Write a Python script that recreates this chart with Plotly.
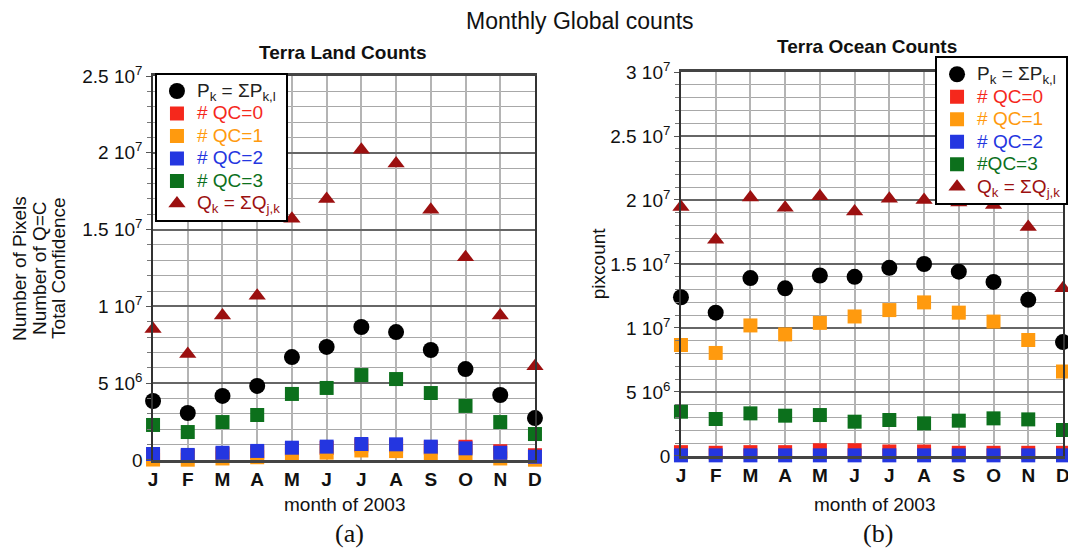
import plotly.graph_objects as go

# Month labels (2003)
months = ["J", "F", "M", "A", "M", "J", "J", "A", "S", "O", "N", "D"]

# Terra Land counts
land_P = [3.84e6, 3.06e6, 4.17e6, 4.82e6, 6.70e6, 7.36e6, 8.66e6, 8.33e6, 7.16e6, 5.92e6, 4.23e6, 2.73e6]
land_qc0 = [0.30e6, 0.25e6, 0.38e6, 0.50e6, 0.70e6, 0.78e6, 0.95e6, 0.92e6, 0.80e6, 0.86e6, 0.57e6, 0.31e6]
land_qc1 = [0.03e6, 0.02e6, 0.10e6, 0.18e6, 0.38e6, 0.48e6, 0.62e6, 0.58e6, 0.45e6, 0.30e6, 0.10e6, 0.02e6]
land_qc2 = [0.39e6, 0.33e6, 0.47e6, 0.59e6, 0.80e6, 0.87e6, 1.04e6, 1.02e6, 0.87e6, 0.76e6, 0.47e6, 0.21e6]
land_qc3 = [2.28e6, 1.82e6, 2.47e6, 2.93e6, 4.30e6, 4.69e6, 5.53e6, 5.27e6, 4.36e6, 3.52e6, 2.47e6, 1.69e6]
land_Q = [8.53e6, 6.90e6, 9.40e6, 10.7e6, 15.7e6, 17.0e6, 20.2e6, 19.3e6, 16.3e6, 13.2e6, 9.40e6, 6.10e6]

# Terra Ocean counts
ocean_P = [12.4e6, 11.2e6, 13.9e6, 13.1e6, 14.1e6, 14.0e6, 14.7e6, 15.0e6, 14.4e6, 13.6e6, 12.2e6, 8.9e6]
ocean_qc0 = [0.30e6, 0.25e6, 0.30e6, 0.30e6, 0.45e6, 0.45e6, 0.35e6, 0.35e6, 0.25e6, 0.25e6, 0.25e6, 0.25e6]
ocean_qc1 = [8.67e6, 8.05e6, 10.2e6, 9.5e6, 10.4e6, 10.9e6, 11.4e6, 12.0e6, 11.2e6, 10.5e6, 9.06e6, 6.6e6]
ocean_qc2 = [0.05e6] * 12
ocean_qc3 = [3.46e6, 2.89e6, 3.33e6, 3.15e6, 3.20e6, 2.68e6, 2.81e6, 2.55e6, 2.76e6, 2.94e6, 2.86e6, 2.03e6]
ocean_Q = [19.45e6, 16.9e6, 20.2e6, 19.4e6, 20.3e6, 19.1e6, 20.1e6, 20.0e6, 19.8e6, 19.6e6, 17.9e6, 13.1e6]

# Y tick labels
land_ticks = [0, 5e6, 1e7, 1.5e7, 2e7, 2.5e7]
land_ticktext = ["0", "5 10<sup>6</sup>", "1 10<sup>7</sup>", "1.5 10<sup>7</sup>", "2 10<sup>7</sup>", "2.5 10<sup>7</sup>"]
ocean_ticks = [0, 5e6, 1e7, 1.5e7, 2e7, 2.5e7, 3e7]
ocean_ticktext = ["0", "5 10<sup>6</sup>", "1 10<sup>7</sup>", "1.5 10<sup>7</sup>", "2 10<sup>7</sup>", "2.5 10<sup>7</sup>", "3 10<sup>7</sup>"]

FONT = "Liberation Sans, Arial, Helvetica, sans-serif"
SERIF = "Liberation Serif, Times New Roman, serif"
C_P = "#000000"
C_QC0 = "#f5281c"
C_QC1 = "#ff9a0e"
C_QC2 = "#2436e0"
C_QC3 = "#0c701c"
C_Q = "#9c1010"

xpos = list(range(len(months)))


def colored(label, color):
    # legend row spacing follows the legend font; the label itself is drawn larger
    return f"<span style='color:{color};font-size:19px'>{label}</span>"


def add_panel(fig, xa, ya, legend, P, qc0, qc1, qc2, qc3, Q, qc3_label):
    series = [
        (P, "circle", 16, C_P, colored("P<sub>k</sub> = ΣP<sub>k,l</sub>", "#222222")),
        (qc0, "square", 14, C_QC0, colored("# QC=0", C_QC0)),
        (qc1, "square", 14, C_QC1, colored("# QC=1", C_QC1)),
        (qc2, "square", 14, C_QC2, colored("# QC=2", C_QC2)),
        (qc3, "square", 14, C_QC3, colored(qc3_label, C_QC3)),
        (Q, "triangle-up", 15, C_Q, colored("Q<sub>k</sub> = ΣQ<sub>j,k</sub>", C_Q)),
    ]
    for vals, sym, size, color, name in series:
        fig.add_trace(go.Scatter(
            x=xpos, y=vals, mode="markers", name=name,
            marker=dict(symbol=sym, size=size, color=color, line=dict(width=0)),
            xaxis=xa, yaxis=ya, legend=legend, cliponaxis=False,
        ))


fig = go.Figure()
add_panel(fig, "x", "y", "legend", land_P, land_qc0, land_qc1, land_qc2, land_qc3, land_Q, "# QC=3")
add_panel(fig, "x2", "y2", "legend2", ocean_P, ocean_qc0, ocean_qc1, ocean_qc2, ocean_qc3, ocean_Q, "#QC=3")

xaxis_common = dict(
    range=[0, 11], tickvals=xpos, ticktext=months, showgrid=True,
    gridcolor="#b4b4b4", gridwidth=1.5, showline=True, linecolor="#444444",
    linewidth=2.5, mirror=True, ticks="", zeroline=False,
    ticklabeloverflow="allow",
    tickfont=dict(family=FONT, size=19, color="#111111", weight="bold"),
)
yaxis_common = dict(
    showgrid=True, gridcolor="#666666", gridwidth=1.8, showline=True,
    linecolor="#333333", linewidth=1.5, mirror=True, ticks="outside",
    ticklen=5, tickcolor="#555555", zeroline=False,
    tickfont=dict(family=FONT, size=19, color="#111111"),
    minor=dict(dtick=1e6, showgrid=True, gridcolor="#a8a8a8", gridwidth=1.2,
               ticks="outside", ticklen=4, tickcolor="#777777"),
)

legend_common = dict(
    xanchor="left", yanchor="top", bgcolor="white", bordercolor="#000000",
    borderwidth=2, font=dict(family=FONT, size=15), itemsizing="trace",
)

fig.update_layout(
    width=1068, height=548,
    margin=dict(l=0, r=0, t=0, b=0, autoexpand=False),
    paper_bgcolor="white", plot_bgcolor="white",
    font=dict(family=FONT, color="#111111"),
    showlegend=True,
    xaxis=dict(domain=[0.1433, 0.5009], anchor="y", **xaxis_common),
    yaxis=dict(domain=[0.1606, 0.8613], anchor="x", range=[0, 2.5e7],
               tickvals=land_ticks, ticktext=land_ticktext, **yaxis_common),
    xaxis2=dict(domain=[0.6376, 0.9953], anchor="y2", **xaxis_common),
    yaxis2=dict(domain=[0.1679, 0.8686], anchor="x2", range=[0, 3e7],
                tickvals=ocean_ticks, ticktext=ocean_ticktext, **yaxis_common),
    legend=dict(x=0.1451, y=0.8673, **legend_common),
    legend2=dict(x=0.8755, y=0.8978, **legend_common),
)

annotations = [
    dict(text="Monthly Global counts", x=0.543, y=0.9617, font=dict(size=23)),
    dict(text="<b>Terra Land Counts</b>", x=0.321, y=0.9033, font=dict(size=19)),
    dict(text="<b>Terra Ocean Counts</b>", x=0.812, y=0.916, font=dict(size=19)),
    dict(text="month of 2003", x=0.323, y=0.0785, font=dict(size=19)),
    dict(text="month of 2003", x=0.819, y=0.0785, font=dict(size=19)),
    dict(text="(a)", x=0.3277, y=0.027, font=dict(size=26, family=SERIF)),
    dict(text="(b)", x=0.822, y=0.027, font=dict(size=26, family=SERIF)),
    dict(text="Number of Pixels", x=0.0187, y=0.511, textangle=-90, font=dict(size=19)),
    dict(text="Number of Q=C", x=0.0375, y=0.511, textangle=-90, font=dict(size=19)),
    dict(text="Total Confidence", x=0.0552, y=0.511, textangle=-90, font=dict(size=19)),
    dict(text="pixcount", x=0.56, y=0.518, textangle=-90, font=dict(size=19)),
]
for a in annotations:
    a.update(xref="paper", yref="paper", showarrow=False,
             xanchor="center", yanchor="middle")
    a["font"].setdefault("family", FONT)
    a["font"].setdefault("color", "#111111")
fig.update_layout(annotations=annotations)

fig.write_html("out.html")
